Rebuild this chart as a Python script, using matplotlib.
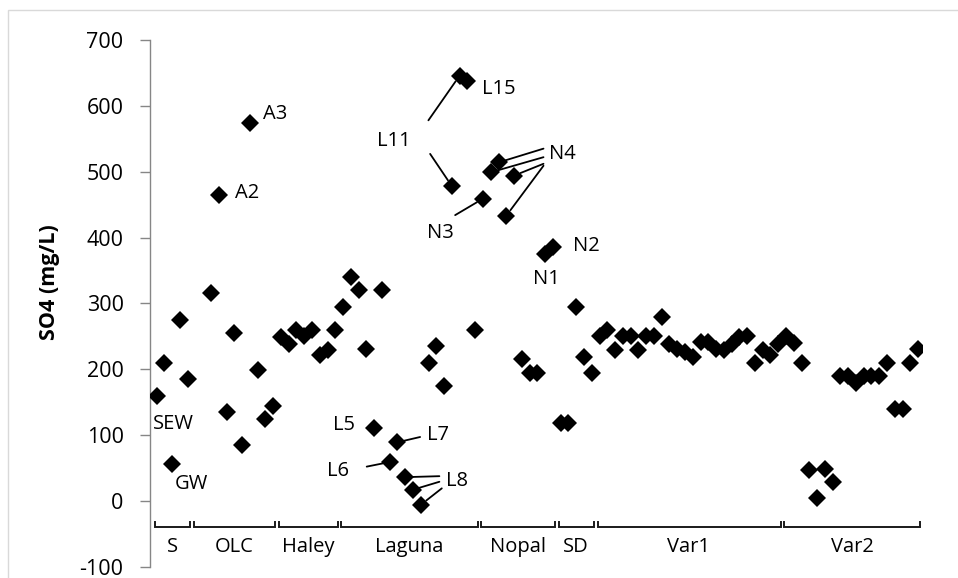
import numpy as np
import matplotlib
matplotlib.use("Agg")
import matplotlib.pyplot as plt
from matplotlib.patches import Rectangle

plt.rcParams['font.family'] = ['Open Sans', 'DejaVu Sans']
plt.rcParams['axes.unicode_minus'] = False

nan = np.nan

# SO4 concentrations (mg/L) per sampling group, one slot per category
groups = ["S", "OLC", "Haley", "Laguna", "Nopal", "SD", "Var1", "Var2"]
s_vals = [160, 210, 56, 274, 185]
olc_vals = [nan, nan, 315, 464, 135, 255, 85, 574, 199, 124, 144]
haley_vals = [249, 239, 259, 250, 259, 221, 229, 259]
laguna_vals = [294, 340, 320, 230, 110, 320, 59, 89, 36, 17, -6, 209, 235, 174,
               478, 646, 638, 259]
nopal_vals = [459, 499, 514, 433, 494, 216, 194, 194, 375, 386]
sd_vals = [119, 119, 294, 218, 194]
var1_vals = [251, 259, 229, 251, 251, 229, 251, 251, 279, 239, 231, 226, 218,
             241, 241, 231, 229, 239, 249, 251, 209, 229, 221, 239]
var2_vals = [250, 240, 209, 47, 4, 48, 28, 189, 189, 179, 189, 189, 189, 209,
             139, 139, 209, 230]

group_vals = [s_vals, olc_vals, haley_vals, laguna_vals, nopal_vals, sd_vals,
              var1_vals, var2_vals]
so4 = np.concatenate([np.array(v, dtype=float) for v in group_vals])
idx = np.arange(len(so4))

W, H = 958, 578
fig = plt.figure(figsize=(W / 100, H / 100), dpi=100)
ax = fig.add_axes([150 / W, 1 - 566.7 / H, 772 / W, (566.7 - 40) / H])

ax.plot(idx, so4, 'D', ls='none', color='black', ms=9.5, mew=0, zorder=3)

ax.set_xlim(-0.85, 98.5)
ax.set_ylim(-100, 700)
ax.set_yticks(range(-100, 701, 100))
for side in ['top', 'right', 'bottom']:
    ax.spines[side].set_visible(False)
ax.spines['left'].set_color('#868686')
ax.spines['left'].set_linewidth(1.0)
ax.set_xticks([])
ax.tick_params(axis='y', direction='out', length=7, width=1.0, color='#868686',
               labelsize=15.5, pad=12)

fig.text(50 / W, 1 - 282 / H, 'SO4 (mg/L)', rotation=90, fontweight='bold',
         fontsize=15.5, ha='center', va='center')

# group brackets and names under the points
start = 0
for name, vals in zip(groups, group_vals):
    end = start + len(vals) - 1
    x0, x1 = start - 0.5 + 0.25, end + 0.5 - 0.2
    ax.plot([x0, x0, x1, x1], [-32, -39.5, -39.5, -32], color='#1a1a1a',
            lw=1.4, solid_joinstyle='miter', clip_on=False)
    ax.text((start + end) / 2, -70, name, ha='center', va='center', fontsize=14.5)
    start = end + 1

# sample labels
labels = [("SEW", -0.48, 117), ("GW", 2.36, 25), ("A2", 10.08, 467),
          ("A3", 13.69, 588), ("L11", 28.33, 546), ("L15", 41.85, 626),
          ("N3", 34.77, 407), ("N4", 50.52, 527), ("N2", 53.65, 387),
          ("N1", 48.42, 337), ("L5", 22.74, 115), ("L7", 34.77, 100),
          ("L6", 21.89, 45), ("L8", 37.26, 30)]
for text, lx, ly in labels:
    ax.text(lx, ly, text, ha='left', va='center', fontsize=14.5, clip_on=False)

# leader lines: (start x, start y, target category)
leaders = [(34.98, 578, 39), (35.2, 527, 38), (38.42, 434, 42),
           (49.79, 535, 44), (49.79, 522, 43), (49.79, 512, 46), (49.79, 509, 45),
           (33.91, 97, 31), (27.04, 52, 30),
           (36.39, 37.5, 32), (36.39, 29, 33), (36.7, 19, 34)]
for sx, sy, k in leaders:
    ax.annotate('', xy=(idx[k], so4[k]), xytext=(sx, sy),
                arrowprops=dict(arrowstyle='-', color='black', lw=1.3,
                                shrinkA=0, shrinkB=5))

# light chart frame
fig.patches.append(Rectangle((8 / W, -0.1), 1.2, 1.1 - 10 / H, fill=False,
                             edgecolor='#d9d9d9', lw=1.0,
                             transform=fig.transFigure))

fig.savefig('out.png', dpi=100)
